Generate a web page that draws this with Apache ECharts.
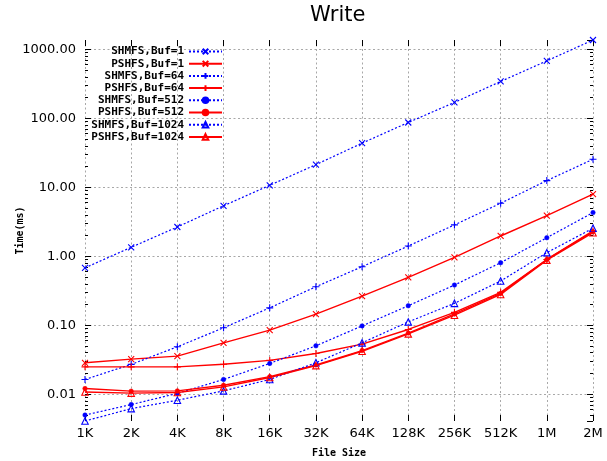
<!DOCTYPE html>
<html><head><meta charset="utf-8">
<script src="https://cdn.jsdelivr.net/npm/echarts@6/dist/echarts.min.js"></script>
<style>html,body{margin:0;padding:0;background:#fff}#c{width:607px;height:461px}</style>
</head><body><div id="c"></div>
<script>
const categories = ['1K','2K','4K','8K','16K','32K','64K','128K','256K','512K','1M','2M'];
const seriesNames = ['SHMFS,Buf=1','PSHFS,Buf=1','SHMFS,Buf=64','PSHFS,Buf=64','SHMFS,Buf=512','PSHFS,Buf=512','SHMFS,Buf=1024','PSHFS,Buf=1024'];
const shmfs1    = [0.68, 1.35, 2.66, 5.4, 10.7, 21.3, 43.7, 87, 170, 342, 680, 1365];
const pshfs1    = [0.0286, 0.0323, 0.0357, 0.0557, 0.0852, 0.145, 0.265, 0.495, 0.967, 1.97, 3.88, 7.94];
const shmfs64   = [0.0164, 0.0271, 0.0488, 0.092, 0.179, 0.362, 0.707, 1.41, 2.85, 5.88, 12.5, 25.5];
const pshfs64   = [0.025, 0.025, 0.025, 0.0273, 0.031, 0.039, 0.0533, 0.087, 0.154, 0.30, 0.90, 2.33];
const shmfs512  = [0.0050, 0.0071, 0.0103, 0.0164, 0.028, 0.0504, 0.098, 0.192, 0.383, 0.807, 1.86, 4.3];
const pshfs512  = [0.0121, 0.0111, 0.0112, 0.0135, 0.0180, 0.0266, 0.043, 0.077, 0.146, 0.29, 0.90, 2.27];
const shmfs1024 = [0.0041, 0.0062, 0.0082, 0.0112, 0.0164, 0.0286, 0.0557, 0.112, 0.208, 0.438, 1.13, 2.55];
const pshfs1024 = [0.0108, 0.0104, 0.0106, 0.0128, 0.0175, 0.026, 0.042, 0.075, 0.14, 0.28, 0.88, 2.20];
const seriesData = [shmfs1, pshfs1, shmfs64, pshfs64, shmfs512, pshfs512, shmfs1024, pshfs1024];
const yMin = 0.0041, yMax = 1365;
// minor tick positions of the log axis (2..9 times each decade)
const minorTickValues = [];
for (let e = -3; e <= 3; e++) for (let m = 2; m <= 9; m++) {
  const v = m * Math.pow(10, e);
  if (v > yMin && v < yMax) minorTickValues.push(v);
}

const BLUE = '#0000ff', RED = '#ff0000';
const SYM_X = 'path://M0,0L10,10M10,0L0,10';
const SYM_PLUS = 'path://M5,0L5,10M0,5L10,5';
const symbols = [SYM_X, SYM_X, SYM_PLUS, SYM_PLUS, 'circle', 'circle', 'triangle', 'triangle'];
const sizes = [6, 6, 7, 7, 4.5, 4.5, 6.5, 6.5];

const series = seriesNames.map((name, i) => {
  const shm = i % 2 === 0;
  const col = shm ? BLUE : RED;
  const sym = symbols[i];
  const filled = sym === 'circle';
  return {
    name, type: 'line', data: seriesData[i],
    xAxisIndex: 0, yAxisIndex: 0,
    symbol: sym, symbolSize: sizes[i], showAllSymbol: true,
    lineStyle: shm ? {color: col, width: 1.2, type: [2, 2]} : {color: col, width: 1.4, type: 'solid'},
    itemStyle: filled ? {color: col, borderColor: col, borderWidth: 0.5} : {color: 'rgba(0,0,0,0)', borderColor: col, borderWidth: 1.1},
    emphasis: {disabled: true},
    animation: false, z: 2 + i
  };
});

const legends = seriesNames.map((name, i) => ({
  data: [name], right: 384, top: 46 + 12.2 * i, orient: 'vertical', align: 'right',
  itemWidth: 33, itemHeight: 7, padding: 0, selectedMode: false,
  textStyle: {fontFamily: 'DejaVu Sans Mono', fontWeight: 'bold', fontSize: 11, color: '#000'}
}));

const gridLine = {show: true, showMinLine: false, showMaxLine: false, lineStyle: {color: '#a8a8a8', type: [2, 2.5], width: 1}};
const yBase = {type: 'log', logBase: 10, min: yMin, max: yMax};
const tickStyle = {color: '#000'};

const option = {
  backgroundColor: '#fff',
  animation: false,
  title: {text: 'Write', left: 310, top: 5, padding: 0,
    textStyle: {fontFamily: 'DejaVu Sans', fontWeight: 'normal', fontSize: 21, color: '#000'}},
  legend: legends,
  grid: {left: 85, right: 14, top: 40, bottom: 40, containLabel: false, outerBoundsMode: 'none'},
  xAxis: [
    {type: 'category', data: categories, boundaryGap: false, position: 'bottom',
      name: 'File Size', nameLocation: 'middle', nameGap: 27, nameMoveOverlap: false,
      nameTextStyle: {fontFamily: 'DejaVu Sans Mono', fontWeight: 'bold', fontSize: 10, color: '#000'},
      axisLine: {show: false},
      axisTick: {show: true, inside: true, length: 6, alignWithLabel: true, lineStyle: tickStyle},
      axisLabel: {margin: 6, fontFamily: 'DejaVu Sans', fontSize: 13, color: '#000', interval: 0},
      splitLine: {show: true, lineStyle: {color: '#a8a8a8', type: [2, 2.5], width: 1}}},
    {type: 'category', data: categories, boundaryGap: false, position: 'top',
      axisLine: {show: false},
      axisTick: {show: true, inside: true, length: 6, lineStyle: tickStyle},
      axisLabel: {show: false}, splitLine: {show: false}}
  ],
  yAxis: [
    Object.assign({}, yBase, {position: 'left',
      name: 'Time(ms)', nameLocation: 'middle', nameGap: 60, nameRotate: 90, nameMoveOverlap: false,
      nameTextStyle: {fontFamily: 'DejaVu Sans Mono', fontWeight: 'bold', fontSize: 10, color: '#000'},
      axisLine: {show: false},
      axisTick: {show: true, inside: true, length: 6, lineStyle: tickStyle},
      axisLabel: {showMinLabel: false, showMaxLabel: false, margin: 9, fontFamily: 'DejaVu Sans', fontSize: 13, color: '#000',
        formatter: v => Number(v).toFixed(2)},
      splitLine: gridLine}),
    Object.assign({}, yBase, {position: 'right',
      axisLine: {show: false},
      axisTick: {show: true, inside: true, length: 6, lineStyle: tickStyle},
      axisLabel: {show: false}, splitLine: {show: false}}),
    Object.assign({}, yBase, {position: 'left',
      axisLine: {show: false},
      axisTick: {show: true, inside: true, length: 3, lineStyle: tickStyle, customValues: minorTickValues},
      axisLabel: {show: false}, splitLine: {show: false}}),
    Object.assign({}, yBase, {position: 'right',
      axisLine: {show: false},
      axisTick: {show: true, inside: true, length: 3, lineStyle: tickStyle, customValues: minorTickValues},
      axisLabel: {show: false}, splitLine: {show: false}})
  ],
  series
};
const chart = echarts.init(document.getElementById('c'), null, {renderer: 'canvas'});
chart.setOption(option);
</script></body></html>
